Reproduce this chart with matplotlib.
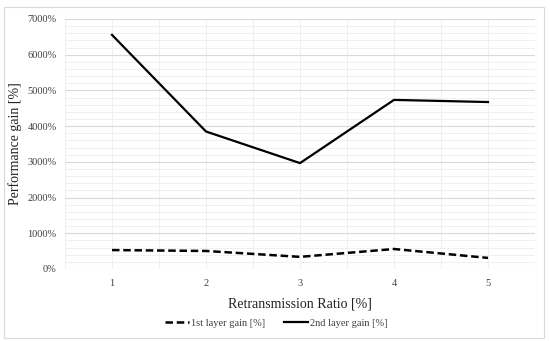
import matplotlib
matplotlib.use("Agg")
import matplotlib.pyplot as plt
from matplotlib.patches import Rectangle
from matplotlib.ticker import MultipleLocator, FuncFormatter

categories = ["1", "2", "3", "4", "5"]
layer1_gain = [530, 505, 340, 560, 310]
layer2_gain = [6555, 3850, 2965, 4735, 4675]

plt.rcParams['font.family'] = ['Liberation Serif', 'DejaVu Serif']

fig = plt.figure(figsize=(5.5, 3.41), dpi=100)
ax = fig.add_axes([65/550, 1-269/341, (535-65)/550, (269-19)/341])

x = list(range(1, len(categories)+1))
ax.plot(x, layer1_gain, color='black', lw=1.8, ls=(0, (3, 1.5)), label='1st layer gain [%]')
ax.plot(x, layer2_gain, color='black', lw=1.6, label='2nd layer gain [%]')

ax.set_xlim(0.5, 5.5)
ax.set_ylim(0, 7000)
ax.set_xticks(x)
ax.set_xticklabels(categories)
ax.xaxis.set_minor_locator(MultipleLocator(0.5))
ax.yaxis.set_major_locator(MultipleLocator(1000))
ax.yaxis.set_minor_locator(MultipleLocator(200))
ax.yaxis.set_major_formatter(FuncFormatter(lambda v, p: f"{int(v)}%"))
ax.grid(True, which='major', axis='y', color='#d9d9d9', lw=0.8)
ax.grid(True, which='minor', axis='y', color='#eeeeee', lw=0.6)
ax.grid(True, which='both', axis='x', color='#eeeeee', lw=0.6)
ax.set_axisbelow(True)
for s in ax.spines.values():
    s.set_visible(False)
ax.tick_params(axis='both', which='both', length=0, labelsize=7.5, colors='#404040')
ax.tick_params(axis='y', pad=6)
ax.tick_params(axis='x', pad=7)
ax.set_xlabel("Retransmission Ratio [%]", fontsize=10, color='#222222')
ax.set_ylabel("Performance gain [%]", fontsize=10, color='#222222')
ax.xaxis.set_label_coords(0.5, (269-297)/250)
ax.yaxis.set_label_coords((22-65)/470, 0.5)

fig.legend(loc='center', bbox_to_anchor=(276/550, 1-323/341), ncol=2, frameon=False,
           fontsize=7.5, handlelength=2.3, handletextpad=0.2, columnspacing=1.8,
           labelcolor='#404040')

fig.patches.append(Rectangle((4/550, 3/341), 540/550, 331/341, transform=fig.transFigure,
                             fill=False, edgecolor='#d9d9d9', lw=0.8))

fig.savefig("out.png", dpi=100)
